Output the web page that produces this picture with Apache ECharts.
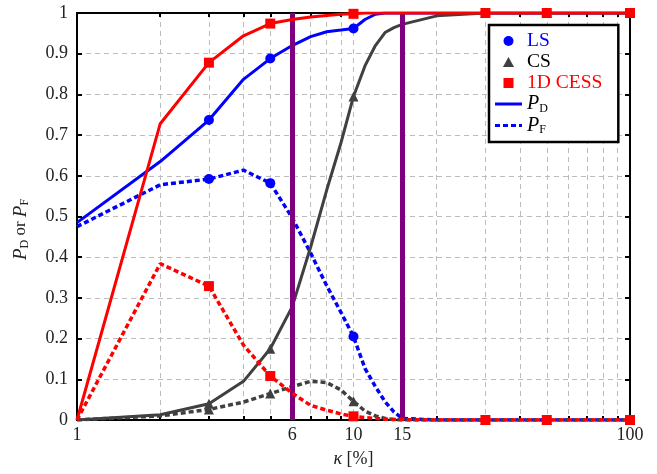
<!DOCTYPE html>
<html>
<head>
<meta charset="utf-8">
<script src="https://cdn.jsdelivr.net/npm/echarts@6/dist/echarts.min.js"></script>
<style>
  html, body { margin: 0; padding: 0; background: #fff; }
  #chart { width: 657px; height: 474px; }
</style>
</head>
<body>
<div id="chart"></div>
<script>
var kappa = [1, 2, 3, 4, 5, 6, 7, 8, 9, 10, 11, 12, 13, 14, 15, 20, 30, 50, 100];
var markerKappa = [3, 5, 10, 30, 50, 100];
var tickKappa = [1, 2, 3, 4, 5, 6, 7, 8, 9, 10, 20, 30, 40, 50, 60, 70, 80, 90, 100];
var labelKappa = [1, 6, 10, 15, 100];
var thresholdKappa = [6, 15];

var lsPD   = [0.485, 0.635, 0.737, 0.837, 0.888, 0.92, 0.942, 0.954, 0.958, 0.962, 0.984, 0.997, 1, 1, 1, 1, 1, 1, 1];
var lsPF   = [0.475, 0.578, 0.592, 0.614, 0.582, 0.497, 0.41, 0.33, 0.265, 0.205, 0.127, 0.082, 0.045, 0.02, 0.004, 0, 0, 0, 0];
var csPD   = [0, 0.013, 0.04, 0.095, 0.175, 0.278, 0.425, 0.565, 0.68, 0.795, 0.87, 0.92, 0.952, 0.964, 0.972, 0.993, 1, 1, 1];
var csPF   = [0, 0.01, 0.026, 0.044, 0.065, 0.082, 0.095, 0.092, 0.074, 0.046, 0.022, 0.01, 0.004, 0.001, 0, 0, 0, 0, 0];
var cessPD = [0, 0.728, 0.878, 0.944, 0.974, 0.984, 0.99, 0.994, 0.997, 0.998, 1, 1, 1, 1, 1, 1, 1, 1, 1];
var cessPF = [0, 0.384, 0.329, 0.184, 0.108, 0.066, 0.036, 0.024, 0.015, 0.009, 0.006, 0.004, 0.002, 0.001, 0.001, 0, 0, 0, 0];

var BLUE = '#0000ff', GRAY = '#404040', RED = '#ff0000', PURPLE = '#7f007f';
var FONT = 'Liberation Serif';

var ICON_CIRCLE = 'path://M5,0A5,5,0,1,1,5,10A5,5,0,1,1,5,0Z';
var ICON_TRI = 'path://M5,0L10,9L0,9Z';
var ICON_SQUARE = 'path://M0,0L10,0L10,10L0,10Z';
var ICON_SOLID = 'path://M0,0L27,0L27,3L0,3Z';
var ICON_DASH = 'path://M0,0L5,0L5,3L0,3ZM8,0L13,0L13,3L8,3ZM16,0L21,0L21,3L16,3ZM24,0L27,0L27,3L24,3Z';

function pairs(vals) {
  return kappa.map(function (k, i) { return [k, vals[i]]; });
}

function curve(vals, color, symbol, dashed, z) {
  return {
    type: 'line',
    data: pairs(vals),
    z: z,
    symbol: function (v) { return markerKappa.indexOf(v[0]) >= 0 ? symbol : 'none'; },
    symbolSize: 10,
    showAllSymbol: true,
    itemStyle: { color: color },
    lineStyle: { color: color, width: dashed ? 3.5 : 3, type: dashed ? [5, 3] : 'solid' },
    animation: false,
    silent: true
  };
}

function dummy(name, color) {
  return { name: name, type: 'line', data: [], itemStyle: { color: color }, lineStyle: { color: color } };
}

var chart = echarts.init(document.getElementById('chart'));

var option = {
  animation: false,
  backgroundColor: '#fff',
  textStyle: { fontFamily: FONT },
  grid: { left: 77, right: 27, top: 13, bottom: 54 },
  xAxis: [{
    type: 'log', logBase: 10, min: 1, max: 100,
    name: '{i|κ} [%]',
    nameLocation: 'middle', nameGap: 30,
    nameTextStyle: { fontFamily: FONT, fontSize: 18, color: '#222', rich: { i: { fontStyle: 'italic', fontSize: 18, fontFamily: FONT, color: '#222' } } },
    axisLine: { show: true, onZero: false, lineStyle: { color: '#000', width: 2 } },
    axisTick: { show: true, inside: true, length: 4, customValues: tickKappa, lineStyle: { color: '#000', width: 2 } },
    axisLabel: { customValues: labelKappa, margin: 6, fontSize: 18, fontFamily: FONT, color: '#222' },
    splitLine: { show: true, lineStyle: { color: '#bcbcbc', width: 1, type: [5, 4] } },
    minorTick: { show: false }
  }, {
    type: 'log', logBase: 10, min: 1, max: 100, position: 'top',
    axisLine: { show: true, onZero: false, lineStyle: { color: '#000', width: 2 } },
    axisTick: { show: true, inside: true, length: 4, customValues: tickKappa, lineStyle: { color: '#000', width: 2 } },
    axisLabel: { show: false },
    splitLine: { show: false }
  }],
  yAxis: [{
    type: 'value', min: 0, max: 1, interval: 0.1,
    name: '{i|P}{s|D}{r| or }{i|P}{s|F}',
    nameLocation: 'middle', nameGap: 46, nameRotate: 90,
    nameTextStyle: {
      fontFamily: FONT, fontSize: 18, color: '#222',
      padding: [0, 26, 0, 0],
      rich: {
        i: { fontStyle: 'italic', fontSize: 19, fontFamily: FONT, color: '#222' },
        s: { fontSize: 12, fontFamily: FONT, color: '#222', padding: [8, 0, 0, 0] },
        r: { fontSize: 17, fontFamily: FONT, color: '#222' }
      }
    },
    axisLine: { show: true, lineStyle: { color: '#000', width: 2 } },
    axisTick: { show: true, inside: true, length: 5, lineStyle: { color: '#000', width: 2 } },
    axisLabel: { margin: 9, fontSize: 18, fontFamily: FONT, color: '#222' },
    splitLine: { show: true, lineStyle: { color: '#bcbcbc', width: 1, type: [5, 4] } }
  }, {
    type: 'value', min: 0, max: 1, interval: 0.1, position: 'right',
    axisLine: { show: true, lineStyle: { color: '#000', width: 2 } },
    axisTick: { show: true, inside: true, length: 5, lineStyle: { color: '#000', width: 2 } },
    axisLabel: { show: false },
    splitLine: { show: false }
  }],
  legend: {
    left: 489, top: 25, orient: 'vertical',
    backgroundColor: '#fff', borderColor: '#000', borderWidth: 2.5, borderRadius: 0,
    padding: [6, 16, 6, 6],
    itemWidth: 27, itemHeight: 10, itemGap: 1,
    textStyle: { fontFamily: FONT, fontSize: 19.5, color: '#000', lineHeight: 20,
      rich: {
        i: { fontStyle: 'italic', fontSize: 20, fontFamily: FONT, color: '#000', lineHeight: 20 },
        s: { fontSize: 12, fontFamily: FONT, color: '#000', padding: [9, 0, 0, 0] }
      } },
    formatter: function (name) {
      if (name === 'P_D') return '{i|P}{s|D}';
      if (name === 'P_F') return '{i|P}{s|F}';
      return name;
    },
    data: [
      { name: 'LS', icon: ICON_CIRCLE, textStyle: { color: BLUE } },
      { name: 'CS', icon: ICON_TRI, textStyle: { color: '#000' } },
      { name: '1D CESS', icon: ICON_SQUARE, textStyle: { color: RED } },
      { name: 'P_D', icon: ICON_SOLID },
      { name: 'P_F', icon: ICON_DASH }
    ],
    selectedMode: false
  },
  series: [
    {
      type: 'line', data: [], z: 1,
      markLine: {
        silent: true, symbol: 'none', animation: false,
        label: { show: false },
        lineStyle: { color: PURPLE, width: 5, type: 'solid' },
        data: thresholdKappa.map(function (k) { return { xAxis: k }; })
      }
    },
    curve(lsPD, BLUE, 'circle', false, 3),
    curve(lsPF, BLUE, 'circle', true, 3),
    curve(csPD, GRAY, 'triangle', false, 4),
    curve(csPF, GRAY, 'triangle', true, 4),
    curve(cessPD, RED, 'rect', false, 5),
    curve(cessPF, RED, 'rect', true, 5),
    dummy('LS', BLUE),
    dummy('CS', GRAY),
    dummy('1D CESS', RED),
    dummy('P_D', BLUE),
    dummy('P_F', BLUE)
  ]
};

chart.setOption(option);
</script>
</body>
</html>
